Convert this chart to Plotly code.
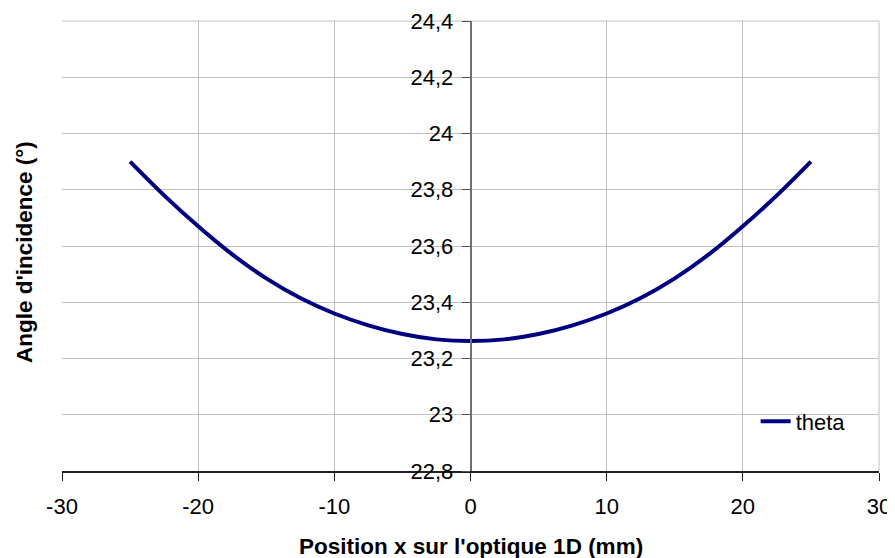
import plotly.graph_objects as go

x_pos = [-25, -22.5, -20, -17.5, -15, -12.5, -10, -7.5, -5, -2.5, 0,
         2.5, 5, 7.5, 10, 12.5, 15, 17.5, 20, 22.5, 25]
theta = [23.90, 23.78, 23.67, 23.57, 23.485, 23.415, 23.36, 23.318, 23.287, 23.268, 23.262,
         23.268, 23.287, 23.318, 23.36, 23.415, 23.485, 23.57, 23.67, 23.78, 23.90]

x_ticks = [-30, -20, -10, 0, 10, 20, 30]
x_tick_labels = ["-30", "-20", "-10", "0", "10", "20", "30"]
y_ticks = [22.8, 23.0, 23.2, 23.4, 23.6, 23.8, 24.0, 24.2, 24.4]
y_tick_labels = ["22,8", "23", "23,2", "23,4", "23,6", "23,8", "24", "24,2", "24,4"]

font_family = "Liberation Sans, Arial, sans-serif"
grid_color = "#c0c0c0"

fig = go.Figure()
fig.add_trace(go.Scatter(
    x=x_pos, y=theta, mode="lines", name="theta",
    line=dict(color="#000080", width=4, shape="spline"),
))

fig.update_layout(
    width=887, height=550,
    margin=dict(l=54, r=16, t=13, b=87, autoexpand=False),
    paper_bgcolor="white", plot_bgcolor="white",
    font=dict(family=font_family, size=22, color="black"),
    showlegend=True,
    legend=dict(x=0.849, y=0.11, xanchor="left", yanchor="middle",
                bgcolor="rgba(0,0,0,0)", font=dict(size=22),
                itemwidth=30, tracegroupgap=0),
    xaxis=dict(
        range=[-30, 30], domain=[0, 1], automargin=False,
        tickvals=x_ticks, ticktext=x_tick_labels,
        showgrid=True, gridcolor=grid_color, gridwidth=1,
        zeroline=False, showline=True, linecolor="#202020", linewidth=1.5,
        ticks="outside", ticklen=8, tickcolor="#202020",
        ticklabelstandoff=7,
    ),
    yaxis=dict(
        range=[22.8, 24.4], anchor="free", position=0.5, automargin=False,
        tickvals=y_ticks, ticktext=y_tick_labels,
        showgrid=True, gridcolor=grid_color, gridwidth=1,
        zeroline=False, showline=True, linecolor="#707070", linewidth=1.5,
        ticks="outside", ticklen=8, tickcolor="#505050",
        ticklabelstandoff=4,
    ),
    shapes=[
        dict(type="line", xref="x domain", yref="y domain", x0=0, x1=1, y0=1, y1=1,
             line=dict(color=grid_color, width=1), layer="below"),
        dict(type="line", xref="x domain", yref="y domain", x0=1, x1=1, y0=0, y1=1,
             line=dict(color=grid_color, width=1), layer="below"),
    ],
    annotations=[
        dict(text="<b>Position x sur l'optique 1D (mm)</b>", xref="paper", yref="paper",
             x=0.5, y=-0.167, xanchor="center", yanchor="middle", showarrow=False,
             font=dict(size=22.5)),
        dict(text="<b>Angle d'incidence (°)</b>", xref="paper", yref="paper",
             x=-0.045, y=0.487, xanchor="center", yanchor="middle", showarrow=False,
             textangle=-90, font=dict(size=22.5)),
    ],
)

fig.write_html("out.html")
